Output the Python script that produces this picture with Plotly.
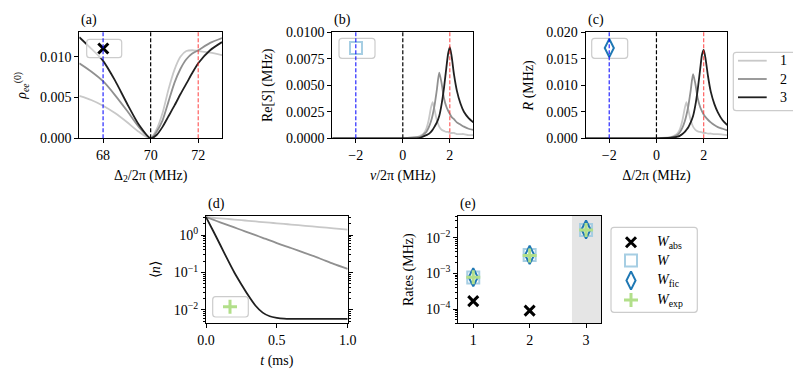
import plotly.graph_objects as go

# ---- panel (a): rho_ee^(0) vs Delta_2/2pi (MHz)
delta2 = [67, 67.5, 68, 68.5, 69, 69.5, 70, 70.25, 70.5, 70.75, 71, 71.25, 71.5, 71.75, 72, 72.5, 73]
rho_1 = [0.0052, 0.0047, 0.0040, 0.0031, 0.0020, 0.0008, 0.0, 0.0011, 0.0031, 0.0060, 0.0084, 0.0100,
         0.0107, 0.0108, 0.0107, 0.0105, 0.0102]
rho_2 = [0.0092, 0.0082, 0.0070, 0.0053, 0.0034, 0.0014, 0.0, 0.0008, 0.0022, 0.0045, 0.0068, 0.0085,
         0.0097, 0.0104, 0.0108, 0.0117, 0.0123]
rho_3 = [0.0124, 0.0110, 0.0095, 0.0071, 0.0043, 0.0017, 0.0, 0.0004, 0.0014, 0.0027, 0.0040, 0.0054,
         0.0067, 0.0080, 0.0092, 0.0108, 0.0118]
vlines_a = [68, 70, 72]

# ---- panels (b) and (c): Re[S] and R vs detuning (MHz)
nu = [-3, 0, 0.6, 0.8, 0.9, 1.0, 1.1, 1.2, 1.27, 1.35, 1.45, 1.55, 1.65, 1.75, 1.85, 1.93, 2.0,
      2.08, 2.18, 2.3, 2.45, 2.6, 2.8, 3.0]
res_1 = [0, 0, 0.0001, 0.0003, 0.0005, 0.0009, 0.0017, 0.0029, 0.0034, 0.0027, 0.0017, 0.0011, 0.0008,
         0.0007, 0.0006, 0.0006, 0.0005, 0.0005, 0.0005, 0.0004, 0.0004, 0.0004, 0.0003, 0.0003]
res_2 = [0, 0, 0.0001, 0.0002, 0.0004, 0.0006, 0.0010, 0.0016, 0.0022, 0.0031, 0.0046, 0.0062, 0.0052,
         0.0038, 0.0030, 0.0026, 0.0023, 0.0020, 0.0018, 0.0015, 0.0013, 0.0011, 0.0009, 0.0008]
res_3 = [0, 0, 0.0, 0.0001, 0.0002, 0.0003, 0.0004, 0.0006, 0.0008, 0.0011, 0.0015, 0.0021, 0.0032,
         0.0047, 0.0066, 0.0080, 0.0086, 0.0077, 0.0060, 0.0045, 0.0033, 0.0025, 0.0019, 0.0015]
r_1 = [0, 0, 0.0002, 0.0006, 0.0010, 0.0018, 0.0034, 0.0057, 0.0068, 0.0054, 0.0034, 0.0022, 0.0016,
       0.0013, 0.0012, 0.0011, 0.0010, 0.0010, 0.0009, 0.0009, 0.0008, 0.0008, 0.0007, 0.0006]
r_2 = [0, 0, 0.0001, 0.0004, 0.0007, 0.0012, 0.0020, 0.0032, 0.0044, 0.0061, 0.0090, 0.0121, 0.0102,
       0.0075, 0.0059, 0.0051, 0.0045, 0.0040, 0.0035, 0.0030, 0.0025, 0.0021, 0.0018, 0.0015]
r_3 = [0, 0, 0.0001, 0.0002, 0.0003, 0.0005, 0.0008, 0.0012, 0.0016, 0.0021, 0.0030, 0.0042, 0.0063,
       0.0093, 0.0130, 0.0158, 0.0167, 0.0150, 0.0118, 0.0088, 0.0065, 0.0049, 0.0034, 0.0025]
vlines_bc = [-2, 0, 2]

# ---- panel (d): <n> vs t (ms)
t_ms = [0, 0.05, 0.1, 0.15, 0.2, 0.25, 0.3, 0.35, 0.4, 0.45, 0.5, 0.55, 0.6, 0.7, 0.8, 0.9, 1.0]
n_1 = [3.0, 2.89, 2.78, 2.68, 2.58, 2.48, 2.39, 2.30, 2.21, 2.13, 2.05, 1.98, 1.90, 1.76, 1.63, 1.51, 1.40]
n_2 = [3.0, 2.56, 2.18, 1.86, 1.59, 1.36, 1.16, 0.99, 0.84, 0.72, 0.61, 0.52, 0.45, 0.33, 0.24, 0.17, 0.125]
n_3 = [3.0, 1.3, 0.55, 0.23, 0.10, 0.048, 0.024, 0.013, 0.0085, 0.0068, 0.0062, 0.0059, 0.0058, 0.0058,
       0.0058, 0.0058, 0.0058]

# ---- panel (e): rates (MHz)
case = [1, 2, 3]
w_abs = [1.67e-4, 9.0e-5]
w = [7.7e-4, 3.3e-3, 1.65e-2]
w_fic = [7.8e-4, 3.3e-3, 1.7e-2]
w_exp = [7.8e-4, 3.2e-3, 1.65e-2]
shade_from = 2.75

grey_cols = ["#c8c8c8", "#909090", "#202020"]
labels = ["1", "2", "3"]
rate_names = ["<i>W</i><sub>abs</sub>", "<i>W</i>", "<i>W</i><sub>fic</sub>", "<i>W</i><sub>exp</sub>"]
FONT = "Liberation Serif, serif"
VW, VH = 801, 379   # browser window
OFF = 8             # default page margin around the plot div
W, H = VW - OFF, VH - OFF

fig = go.Figure()

# curves in (a), (b), (c), (d)
for i in range(3):
    line = dict(color=grey_cols[i], width=1.8, shape="spline", smoothing=0.7)
    fig.add_trace(go.Scatter(x=delta2, y=[rho_1, rho_2, rho_3][i], mode="lines", line=line,
                             xaxis="x", yaxis="y"))
    fig.add_trace(go.Scatter(x=nu, y=[res_1, res_2, res_3][i], mode="lines", line=line,
                             xaxis="x2", yaxis="y2"))
    fig.add_trace(go.Scatter(x=nu, y=[r_1, r_2, r_3][i], mode="lines", line=line,
                             xaxis="x3", yaxis="y3"))
    fig.add_trace(go.Scatter(x=t_ms, y=[n_1, n_2, n_3][i], mode="lines", line=line,
                             xaxis="x4", yaxis="y4"))

# rates in (e)
mk_abs = dict(symbol="x-thin", size=10, line=dict(color="black", width=3), color="black")
mk_w = dict(symbol="square-open", size=12, color="#a6cee3", line=dict(width=2))
mk_fic = dict(symbol="diamond-tall-open", size=13, color="#1f78b4", line=dict(width=2))
mk_exp = dict(symbol="cross-thin", size=10, color="#b2df8a", line=dict(color="#b2df8a", width=3))
markers = [mk_abs, mk_w, mk_fic, mk_exp]
fig.add_trace(go.Scatter(x=case[:2], y=w_abs, mode="markers", marker=mk_abs, xaxis="x5", yaxis="y5"))
fig.add_trace(go.Scatter(x=case, y=w, mode="markers", marker=mk_w, xaxis="x5", yaxis="y5"))
fig.add_trace(go.Scatter(x=case, y=w_fic, mode="markers", marker=mk_fic, xaxis="x5", yaxis="y5"))
fig.add_trace(go.Scatter(x=case, y=w_exp, mode="markers", marker=mk_exp, xaxis="x5", yaxis="y5"))

# dashed reference lines
vcols = ["rgba(0,0,255,0.85)", "black", "rgba(255,40,40,0.75)"]
for i in range(3):
    for xa, ya, xv in [("x", "y", vlines_a[i]), ("x2", "y2", vlines_bc[i]), ("x3", "y3", vlines_bc[i])]:
        fig.add_shape(type="line", xref=xa, yref=ya + " domain", x0=xv, x1=xv, y0=0, y1=1,
                      line=dict(color=vcols[i], width=1.2, dash="4px,2px"))

# shaded region in (e)
fig.add_shape(type="rect", xref="x5", yref="y5 domain", x0=shade_from, x1=3.265, y0=0, y1=1,
              fillcolor="#e5e5e5", line=dict(width=0), layer="below")


# ---- legends, drawn on an overlay axis in window pixels (x6/y6)
def rbox(x0, y0, x1, y1, r=3):
    return (f"M{x0 + r},{y0} L{x1 - r},{y0} Q{x1},{y0} {x1},{y0 + r} L{x1},{y1 - r} "
            f"Q{x1},{y1} {x1 - r},{y1} L{x0 + r},{y1} Q{x0},{y1} {x0},{y1 - r} "
            f"L{x0},{y0 + r} Q{x0},{y0} {x0 + r},{y0} Z")


def add_box(x0, y0, x1, y1):
    fig.add_shape(type="path", path=rbox(x0, y0, x1, y1), xref="x6", yref="y6", layer="below",
                  fillcolor="rgba(255,255,255,0.8)", line=dict(color="#cccccc", width=1.2))


# per-panel tag boxes (a)-(d)
tags = [((86.7, 39.3, 121.7, 57.7), (103.3, 48.5)),
        ((339, 38.3, 375, 58.3), (356, 48)),
        ((591.7, 38.3, 627.7, 58.3), (609.3, 48)),
        ((212.7, 296.7, 248.3, 317), (230, 306.7))]
for (box, pos), mk in zip(tags, markers):
    add_box(*box)
    fig.add_trace(go.Scatter(x=[pos[0]], y=[pos[1]], mode="markers", marker=mk, xaxis="x6", yaxis="y6",
                             cliponaxis=False))

# line legend (1, 2, 3)
add_box(733.3, 52.3, 799, 110.7)
for i, yy in enumerate([60.7, 79, 97.3]):
    fig.add_trace(go.Scatter(x=[738, 766.7], y=[yy, yy], mode="lines", xaxis="x6", yaxis="y6",
                             line=dict(color=grey_cols[i], width=1.8), cliponaxis=False))
    fig.add_annotation(text=labels[i], x=778, y=yy, xref="x6", yref="y6", xanchor="left",
                       yanchor="middle", showarrow=False, font=dict(size=14, color="black"))

# rate legend
add_box(611, 227.3, 697.3, 312.3)
for i, yy in enumerate([242.3, 260.5, 280.5, 300]):
    fig.add_trace(go.Scatter(x=[631], y=[yy], mode="markers", marker=markers[i], xaxis="x6", yaxis="y6",
                             cliponaxis=False))
    fig.add_annotation(text=rate_names[i], x=655, y=yy, xref="x6", yref="y6", xanchor="left",
                       yanchor="middle", showarrow=False, font=dict(size=14, color="black"))


def px_dom(a, b):
    return [(a - OFF) / W, (b - OFF) / W]


def py_dom(top, bottom):
    return [1 - (bottom - OFF) / H, 1 - (top - OFF) / H]


axis_common = dict(showline=True, linecolor="black", linewidth=1.2, mirror=True, ticks="outside",
                   ticklen=4, tickwidth=1.1, tickcolor="black", showgrid=False, zeroline=False,
                   automargin=False, tickfont=dict(size=14, color="black"),
                   title_font=dict(size=14, color="black"))

minor_log = dict(ticks="outside", ticklen=2, tickwidth=0.8, tickcolor="black")

row1 = py_dom(32.3, 138.3)
row2 = py_dom(216, 323.3)
XS, YS = 7, 9   # title standoffs

fig.update_layout(
    width=W, height=H, margin=dict(l=0, r=0, t=0, b=0), showlegend=False,
    plot_bgcolor="rgba(0,0,0,0)", paper_bgcolor="white",
    font=dict(family=FONT, size=14, color="black"),
    xaxis=dict(axis_common, domain=px_dom(79.3, 222), range=[67, 73], tickvals=[68, 70, 72],
               title=dict(text="Δ<sub>2</sub>/2π (MHz)", standoff=XS), anchor="y"),
    yaxis=dict(axis_common, domain=row1, range=[0, 0.013], tickvals=[0, 0.005, 0.01], tickformat=".3f",
               title=dict(text="<i>ρ</i><sub><i>ee</i></sub><sup>(0)</sup>", standoff=YS), anchor="x"),
    xaxis2=dict(axis_common, domain=px_dom(332.3, 473.3), range=[-3, 3], tickvals=[-2, 0, 2],
                ticktext=["−2", "0", "2"], title=dict(text="<i>ν</i>/2π (MHz)", standoff=XS), anchor="y2"),
    yaxis2=dict(axis_common, domain=row1, range=[0, 0.01], tickvals=[0, 0.0025, 0.005, 0.0075, 0.01],
                tickformat=".4f", title=dict(text="Re[<i>S</i>] (MHz)", standoff=YS), anchor="x2"),
    xaxis3=dict(axis_common, domain=px_dom(585.6, 727.3), range=[-3, 3], tickvals=[-2, 0, 2],
                ticktext=["−2", "0", "2"], title=dict(text="Δ/2π (MHz)", standoff=XS), anchor="y3"),
    yaxis3=dict(axis_common, domain=row1, range=[0, 0.02], tickvals=[0, 0.005, 0.01, 0.015, 0.02],
                tickformat=".3f", title=dict(text="<i>R</i> (MHz)", standoff=YS), anchor="x3"),
    xaxis4=dict(axis_common, domain=px_dom(206, 347.7), range=[0, 1], tickvals=[0, 0.5, 1],
                ticktext=["0.0", "0.5", "1.0"], title=dict(text="<i>t</i> (ms)", standoff=XS), anchor="y4"),
    yaxis4=dict(axis_common, domain=row2, type="log", range=[-2.355, 0.507], mirror="allticks",
                tickvals=[0.01, 0.1, 1], ticktext=["10<sup>−2</sup>", "10<sup>−1</sup>", "10<sup>0</sup>"],
                minor=dict(minor_log, tickvals=[k * 10 ** e for e in (-3, -2, -1, 0) for k in range(2, 10)]),
                title=dict(text="⟨<i>n</i>⟩", standoff=YS), anchor="x4"),
    xaxis5=dict(axis_common, domain=px_dom(458.3, 601), range=[0.735, 3.265], tickvals=[1, 2, 3],
                anchor="y5"),
    yaxis5=dict(axis_common, domain=row2, type="log", range=[-4.4, -1.39],
                tickvals=[1e-4, 1e-3, 1e-2], ticktext=["10<sup>−4</sup>", "10<sup>−3</sup>", "10<sup>−2</sup>"],
                minor=dict(minor_log, tickvals=[k * 10 ** e for e in (-5, -4, -3, -2) for k in range(2, 10)]),
                title=dict(text="Rates (MHz)", standoff=YS), anchor="x5"),
    xaxis6=dict(domain=[0, 1], range=[OFF, VW], visible=False, fixedrange=True, anchor="y6"),
    yaxis6=dict(domain=[0, 1], range=[VH, OFF], visible=False, fixedrange=True, anchor="x6"),
)

# panel letters
for ref, txt in [("", "(a)"), ("2", "(b)"), ("3", "(c)"), ("4", "(d)"), ("5", "(e)")]:
    fig.add_annotation(text=txt, xref=f"x{ref} domain", yref=f"y{ref} domain", x=0, y=1,
                       xanchor="left", yanchor="bottom", yshift=2, showarrow=False,
                       font=dict(size=14, color="black"))

fig.write_html("out.html")
